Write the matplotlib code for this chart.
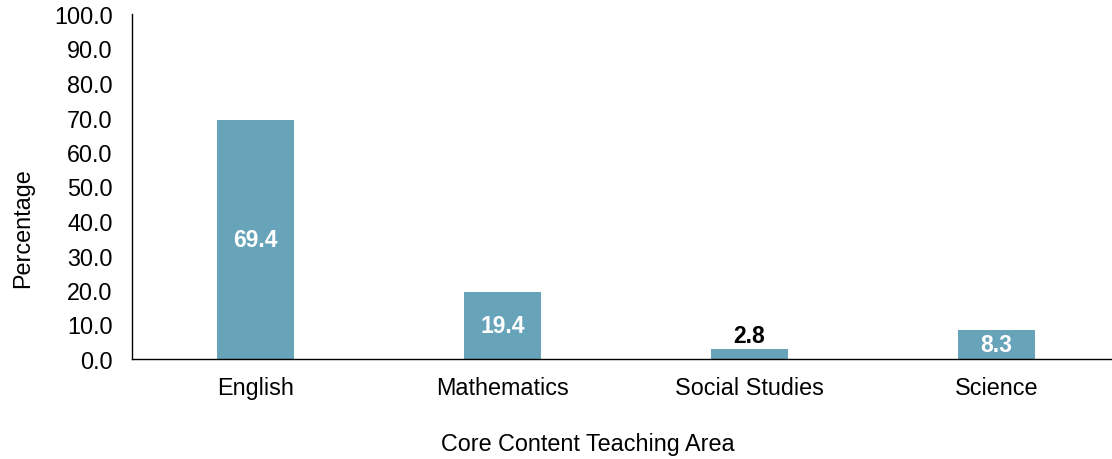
import numpy as np
import matplotlib.pyplot as plt

plt.rcParams['font.family'] = ['Liberation Sans', 'DejaVu Sans']

# data
areas = ['English', 'Mathematics', 'Social Studies', 'Science']
pct = [69.4, 19.4, 2.8, 8.3]
bar_color = '#67A3B9'

fig = plt.figure(figsize=(11.12, 4.6), dpi=100)
ax = fig.add_axes([132 / 1112, 100 / 460, 988 / 1112, 345 / 460])

x = np.arange(len(areas))
bars = ax.bar(x, pct, width=0.315, color=bar_color)

# value labels: white inside tall bars, black above the short one
for b, v in zip(bars, pct):
    cx = b.get_x() + b.get_width() / 2
    if v < 5:
        ax.text(cx, v + 0.8, f'{v:.1f}', ha='center', va='bottom',
                fontsize=16.5, fontweight='bold', color='black')
    else:
        ax.text(cx, v / 2, f'{v:.1f}', ha='center', va='center',
                fontsize=16.5, fontweight='bold', color='white')

ax.set_xlim(-0.5, 3.5)
ax.set_ylim(0, 100)
ax.set_yticks(np.arange(0, 101, 10))
ax.set_yticklabels([f'{t:.1f}' for t in np.arange(0, 101, 10)])
ax.set_xticks(x)
ax.set_xticklabels(areas)
ax.tick_params(axis='both', length=0, labelsize=16.8)
ax.tick_params(axis='x', pad=12)
ax.tick_params(axis='y', pad=14)

for s in ['top', 'right']:
    ax.spines[s].set_visible(False)
for s in ['left', 'bottom']:
    ax.spines[s].set_linewidth(1.0)

ax.set_ylabel('Percentage', fontsize=16.8)
ax.yaxis.set_label_coords(-0.111, 0.383)
ax.yaxis.label.set_va('center')
ax.set_xlabel('Core Content Teaching Area', fontsize=16.8)
ax.xaxis.set_label_coords(0.4615, -0.246)
ax.xaxis.label.set_va('center')

fig.savefig('out.png', dpi=100)
